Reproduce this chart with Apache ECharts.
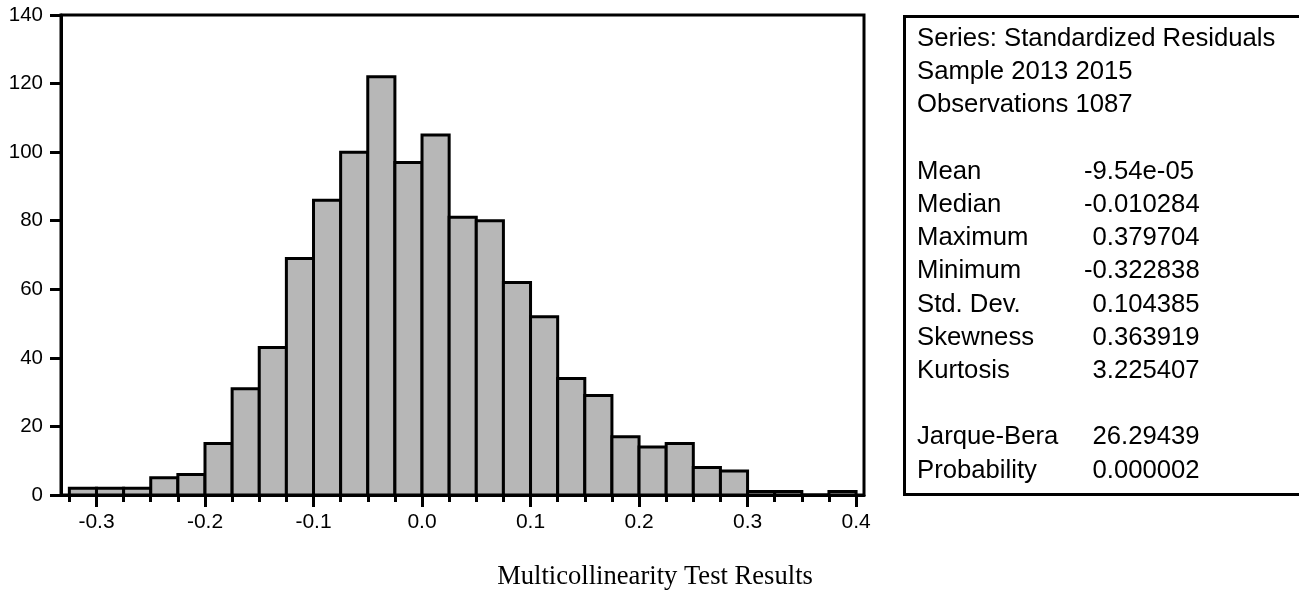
<!DOCTYPE html>
<html>
<head>
<meta charset="utf-8">
<script src="https://cdn.jsdelivr.net/npm/echarts@6/dist/echarts.min.js"></script>
<style>
html,body{margin:0;padding:0;background:#fff;}
#chart{width:1299px;height:593px;}
</style>
</head>
<body>
<div id="chart"></div>
<script>
// ---- data ----
const binEdges = [-0.325,-0.3,-0.275,-0.25,-0.225,-0.2,-0.175,-0.15,-0.125,-0.1,-0.075,-0.05,-0.025,0,
  0.025,0.05,0.075,0.1,0.125,0.15,0.175,0.2,0.225,0.25,0.275,0.3,0.325,0.35,0.375,0.4];
const counts = [2,2,2,5,6,15,31,43,69,86,100,122,97,105,81,80,62,52,34,29,17,14,15,8,7,1,1,0,1];
const xTickValues = [-0.3,-0.2,-0.1,0,0.1,0.2,0.3,0.4];
const xTickLabels = ['-0.3','-0.2','-0.1','0.0','0.1','0.2','0.3','0.4'];
const xMinorTicks = binEdges;
const yTickLabels = ['0','20','40','60','80','100','120','140'];
const headerLines = ['Series: Standardized Residuals','Sample 2013 2015','Observations 1087'];
const statLabels = ['Mean','Median','Maximum','Minimum','Std. Dev.','Skewness','Kurtosis'];
const statValues = ['-9.54e-05','-0.010284','0.379704','-0.322838','0.104385','0.363919','3.225407'];
const testLabels = ['Jarque-Bera','Probability'];
const testValues = ['26.29439','0.000002'];
const caption = 'Multicollinearity Test Results';

// ---- build ----
const histData = counts.map((c, i) => [binEdges[i], binEdges[i + 1], c]);

const sansFont = '"Liberation Sans", Arial, sans-serif';
const statSize = 25.7;
const rowStart = 46, rowStep = 33.2, labelX = 917, valNegX = 1084, valPosX = 1092.5;
const graphics = [];
graphics.push({
  type: 'rect', left: 902, top: 14,
  shape: {width: 398, height: 478},
  style: {fill: 'none', stroke: '#000', lineWidth: 3}, z: 10
});
function addText(x, row, text) {
  graphics.push({
    type: 'text', x: x, y: rowStart + rowStep * row - 7,
    style: {text: text, fill: '#000', font: statSize + 'px ' + sansFont, verticalAlign: 'middle', align: 'left'},
    z: 11
  });
}
headerLines.forEach((t, i) => addText(labelX, i, t));
statLabels.forEach((t, i) => {
  addText(labelX, 4 + i, t);
  addText(statValues[i][0] === '-' ? valNegX : valPosX, 4 + i, statValues[i]);
});
testLabels.forEach((t, i) => {
  addText(labelX, 12 + i, t);
  addText(testValues[i][0] === '-' ? valNegX : valPosX, 12 + i, testValues[i]);
});
graphics.push({
  type: 'text', x: 655, y: 577,
  style: {text: caption, fill: '#000', font: '26.6px "Liberation Serif", "Times New Roman", serif', align: 'center', verticalAlign: 'middle'},
  z: 11
});

const xMin = -0.3327, xMax = 0.4073;
const chart = echarts.init(document.getElementById('chart'), null, {renderer: 'canvas'});
chart.setOption({
  animation: false,
  backgroundColor: '#fff',
  grid: {left: 61, top: 15, width: 803, height: 480, show: true, borderColor: '#000', borderWidth: 3, backgroundColor: 'transparent'},
  xAxis: [{
    type: 'value', min: xMin, max: xMax, splitNumber: 8,
    splitLine: {show: false},
    axisLine: {show: true, onZero: false, lineStyle: {color: '#000', width: 3}},
    axisTick: {show: true, customValues: xTickValues, length: 12, lineStyle: {color: '#000', width: 3}},
    axisLabel: {
      customValues: xTickValues, margin: 17, color: '#000', fontSize: 21, fontFamily: sansFont,
      formatter: v => { const k = xTickValues.findIndex(t => Math.abs(t - v) < 1e-9); return k >= 0 ? xTickLabels[k] : ''; }
    }
  }, {
    type: 'value', min: xMin, max: xMax, position: 'bottom', gridIndex: 0, splitNumber: 8,
    splitLine: {show: false},
    axisLine: {show: false, onZero: false},
    axisTick: {show: true, customValues: xMinorTicks, length: 7, lineStyle: {color: '#000', width: 3}},
    axisLabel: {show: false}
  }],
  yAxis: {
    type: 'value', min: 0, max: 140, interval: 20, position: 'left',
    splitLine: {show: false},
    axisLine: {show: true, onZero: false, lineStyle: {color: '#000', width: 3}},
    axisTick: {show: true, length: 11, lineStyle: {color: '#000', width: 3}},
    axisLabel: {
      margin: 18, color: '#000', fontSize: 20.5, fontFamily: sansFont,
      formatter: v => yTickLabels[Math.round(v / 20)]
    }
  },
  series: [{
    type: 'custom',
    xAxisIndex: 0, yAxisIndex: 0,
    data: histData,
    encode: {x: [0, 1], y: 2},
    renderItem: function (params, api) {
      const p0 = api.coord([api.value(0), api.value(2)]);
      const p1 = api.coord([api.value(1), 0]);
      return {
        type: 'rect',
        shape: {x: p0[0], y: p0[1], width: p1[0] - p0[0], height: p1[1] - p0[1]},
        style: {fill: '#b7b7b7', stroke: '#000', lineWidth: 3}
      };
    }
  }],
  graphic: graphics
});
</script>
</body>
</html>
